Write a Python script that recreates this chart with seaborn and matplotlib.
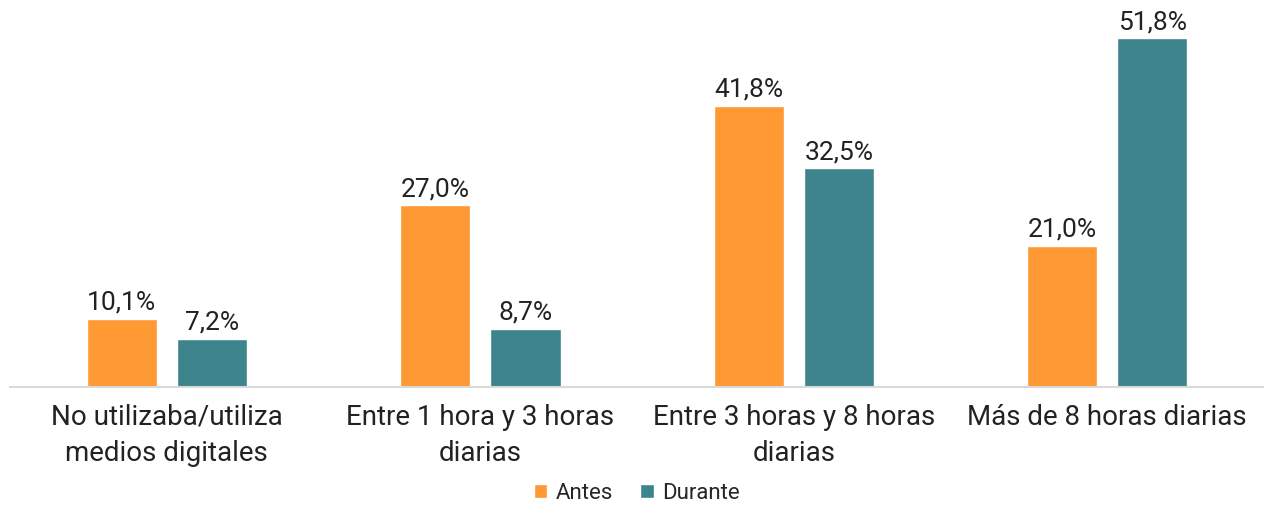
import pandas as pd
import seaborn as sns
import matplotlib.pyplot as plt

sns.set_style('white')
plt.rcParams['font.family'] = ['Roboto', 'DejaVu Sans']

categories = ["No utilizaba/utiliza\nmedios digitales",
              "Entre 1 hora y 3 horas\ndiarias",
              "Entre 3 horas y 8 horas\ndiarias",
              "Más de 8 horas diarias"]
antes = [10.1, 27.0, 41.8, 21.0]
durante = [7.2, 8.7, 32.5, 51.8]
series = ["Antes", "Durante"]
colors = ["#FF9933", "#3D848C"]

df = pd.DataFrame({
    "cat": categories * 2,
    "serie": [series[0]] * 4 + [series[1]] * 4,
    "valor": antes + durante,
})

fig = plt.figure(figsize=(12.64, 5.08), dpi=100)
ax = fig.add_axes([0.008, 0.238, 0.992, 0.742])
sns.barplot(data=df, x="cat", y="valor", hue="serie", palette=colors,
            width=0.575, gap=0.22, saturation=1, ax=ax, legend=True)

for cont in ax.containers:
    labels = [f"{v:.1f}%".replace(".", ",") for v in cont.datavalues]
    ax.bar_label(cont, labels=labels, padding=3, fontsize=19, color="#222222")

ax.set_ylim(0, 56.0)
ax.set_xlim(-0.5, 3.5)
ax.set_xlabel("")
ax.set_ylabel("")
ax.set_yticks([])
ax.tick_params(axis="x", labelsize=20, length=0, pad=12, colors="#222222")
for lbl in ax.get_xticklabels():
    lbl.set_linespacing(1.45)
for s in ["top", "right", "left"]:
    ax.spines[s].set_visible(False)
ax.spines["bottom"].set_color("#D9D9D9")
ax.spines["bottom"].set_linewidth(1.5)

ax.legend(loc="center", bbox_to_anchor=(0.5, -0.283), ncol=2, frameon=False,
          fontsize=16, handlelength=0.6, handleheight=0.6, handletextpad=0.4,
          columnspacing=1.2, borderpad=0)

fig.savefig("out.png", dpi=100)
